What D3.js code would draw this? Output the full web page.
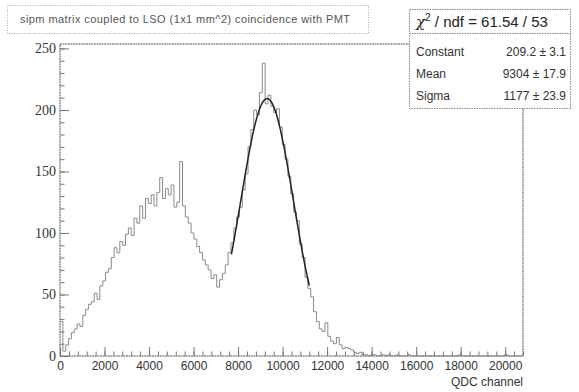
<!DOCTYPE html>
<html>
<head>
    <meta charset="UTF-8">
    <title>sipm matrix QDC spectrum</title>
    <script src="https://cdn.jsdelivr.net/npm/d3@7"></script>
    <style>
        body { margin: 0; background: #fff; }
    </style>
</head>
<body>
<div id="chart"></div>
<script>
    // histogram: bins of 128 QDC channels starting at 0
    const binWidth = 128;
    const counts = [
        28, 4, 9, 14, 19, 22, 26, 24, 33, 38,
        42, 44, 51, 46, 57, 61, 68, 71, 80, 88,
        84, 93, 90, 99, 104, 98, 112, 108, 122, 112,
        128, 124, 131, 122, 133, 145, 128, 136, 131, 139,
        121, 125, 158, 122, 113, 108, 100, 95, 89, 84,
        78, 74, 70, 63, 66, 56, 62, 67, 74, 84,
        92, 104, 113, 121, 135, 148, 170, 184, 200, 196,
        214, 238, 205, 212, 203, 198, 201, 186, 172, 160,
        146, 132, 117, 110, 91, 80, 64, 55, 48, 36,
        28, 22, 20, 27, 16, 12, 10, 15, 9, 6,
        7, 6, 5, 3, 2, 3, 1, 1, 0, 1,
        1, 0, 0, 1, 0, 1, 0, 0, 1, 0,
        0, 0, 1, 0, 0, 0, 0, 0, 0, 0,
        0, 0, 0, 0, 0, 0, 0, 0, 0, 0,
        1, 0, 0, 0, 0, 0, 0, 0, 0, 0,
        0, 0, 0, 0, 0, 0, 1, 0, 0, 0,
        0, 0
    ];
    const xTicks = [0, 2000, 4000, 6000, 8000, 10000, 12000, 14000, 16000, 18000, 20000];
    const yTicks = [0, 50, 100, 150, 200, 250];

    // gaussian fit: constant, mean, sigma and the range it was fitted on
    const fitParams = [209.2, 9304, 1177];
    const fitRange = [7700, 11200];

    const statsTitle = "/ ndf = 61.54 / 53";
    const statsNames = ["Constant", "Mean", "Sigma"];
    const statsValues = ["209.2 \u00b1 3.1", "9304 \u00b1 17.9", "1177 \u00b1 23.9"];

    const title = "sipm matrix coupled to LSO (1x1 mm^2) coincidence with PMT";
    const xTitle = "QDC channel";

    const W = 579, H = 392;
    const margin = {top: 44, right: 56, bottom: 36, left: 60};

    const svg = d3.select("#chart").append("svg")
        .attr("width", W)
        .attr("height", H)
        .style("font-family", "'Liberation Sans', Arial, sans-serif");

    const x = d3.scaleLinear().domain([0, 20800]).range([margin.left, W - margin.right]);
    const y = d3.scaleLinear().domain([0, 253.6]).range([H - margin.bottom, margin.top]);

    // frame
    svg.append("rect")
        .attr("x", margin.left)
        .attr("y", margin.top)
        .attr("width", W - margin.left - margin.right)
        .attr("height", H - margin.top - margin.bottom)
        .style("fill", "none")
        .style("stroke", "#555")
        .style("stroke-width", 1)
        .style("stroke-dasharray", "2,0.6");

    // histogram as steps
    const steps = [];
    counts.forEach((c, i) => {
        steps.push([i * binWidth, c]);
    });
    steps.push([counts.length * binWidth, counts[counts.length - 1]]);

    const stepLine = d3.line()
        .x(d => x(d[0]))
        .y(d => y(d[1]))
        .curve(d3.curveStepAfter);

    svg.append("path")
        .datum(steps)
        .attr("d", stepLine)
        .style("fill", "none")
        .style("stroke", "#8a8a8a")
        .style("stroke-width", 1);

    // fit curve
    const gaus = t => fitParams[0] * Math.exp(-0.5 * ((t - fitParams[1]) / fitParams[2]) ** 2);
    const fitPts = d3.range(fitRange[0], fitRange[1] + 1, 25).map(t => [t, gaus(t)]);
    svg.append("path")
        .datum(fitPts)
        .attr("d", d3.line().x(d => x(d[0])).y(d => y(d[1])))
        .style("fill", "none")
        .style("stroke", "#222")
        .style("stroke-width", 1.5);

    // axes, ticks drawn inward like ROOT
    const xAxis = svg.append("g")
        .attr("transform", `translate(0, ${H - margin.bottom})`)
        .call(d3.axisBottom(x).tickValues(xTicks).tickSize(-9).tickPadding(4).tickFormat(d3.format("d")));
    const xMinor = svg.append("g")
        .attr("transform", `translate(0, ${H - margin.bottom})`)
        .call(d3.axisBottom(x).tickValues(d3.range(0, 20801, 400)).tickSize(-4.5).tickFormat(""));

    const yAxis = svg.append("g")
        .attr("transform", `translate(${margin.left}, 0)`)
        .call(d3.axisLeft(y).tickValues(yTicks).tickSize(-9).tickPadding(4));
    const yMinor = svg.append("g")
        .attr("transform", `translate(${margin.left}, 0)`)
        .call(d3.axisLeft(y).tickValues(d3.range(0, 251, 10)).tickSize(-4.5).tickFormat(""));

    [xAxis, xMinor, yAxis, yMinor].forEach(g => {
        g.select(".domain").remove();
        g.selectAll(".tick line").style("stroke", "#777");
    });
    xAxis.selectAll("text")
        .style("font-size", "12px")
        .style("fill", "#333")
        .attr("dy", "0.85em");
    yAxis.selectAll("text")
        .style("font-family", "'Liberation Serif', 'Times New Roman', serif")
        .style("font-size", "14px")
        .style("fill", "#333");

    svg.append("text")
        .attr("x", W - margin.right)
        .attr("y", 386)
        .attr("text-anchor", "end")
        .style("font-size", "12px")
        .style("fill", "#333")
        .text(xTitle);

    // title box
    svg.append("rect")
        .attr("x", 7.5).attr("y", 5.5)
        .attr("width", 361).attr("height", 28)
        .style("fill", "#fff")
        .style("stroke", "#aaa")
        .style("stroke-dasharray", "1,1.5");
    svg.append("text")
        .attr("x", 20).attr("y", 23)
        .attr("textLength", 330)
        .attr("lengthAdjust", "spacing")
        .style("font-size", "11px")
        .style("fill", "#555")
        .text(title);

    // stats box
    const sb = {x: 409.5, y: 9.5, w: 161, h: 99};
    svg.append("rect")
        .attr("x", sb.x).attr("y", sb.y)
        .attr("width", sb.w).attr("height", sb.h)
        .style("fill", "#fff")
        .style("stroke", "#888")
        .style("stroke-dasharray", "1.5,1");
    svg.append("line")
        .attr("x1", sb.x).attr("x2", sb.x + sb.w)
        .attr("y1", 33.5).attr("y2", 33.5)
        .style("stroke", "#888")
        .style("stroke-dasharray", "1.5,1");

    const chi = svg.append("text")
        .attr("x", 416).attr("y", 27)
        .style("font-size", "15px")
        .style("fill", "#222");
    chi.append("tspan").style("font-family", "'DejaVu Serif', serif").style("font-style", "italic").text("\u03c7");
    chi.append("tspan").attr("dy", -6).style("font-size", "10px").text("2");
    chi.append("tspan").attr("dy", 6).text(" " + statsTitle);

    statsNames.forEach((name, i) => {
        svg.append("text")
            .attr("x", 416).attr("y", 56 + i * 22)
            .style("font-size", "12px")
            .style("fill", "#333")
            .text(name);
        svg.append("text")
            .attr("x", 566).attr("y", 56 + i * 22)
            .attr("text-anchor", "end")
            .style("font-size", "12px")
            .style("fill", "#333")
            .text(statsValues[i]);
    });
</script>
</body>
</html>
